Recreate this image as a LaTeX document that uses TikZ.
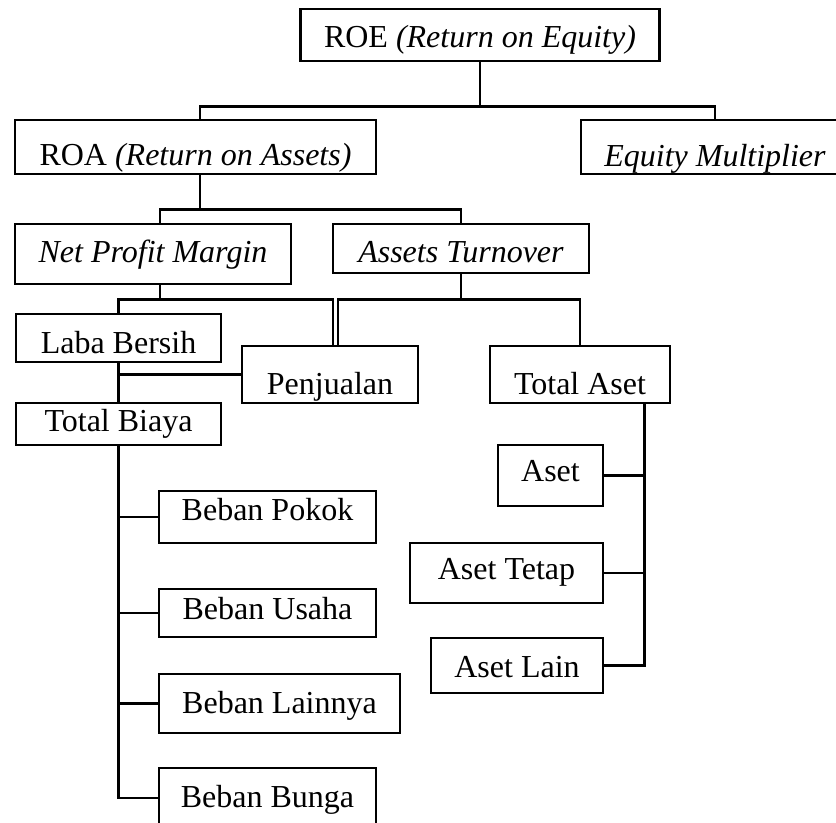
\documentclass[tikz,border=0pt]{standalone}
\usepackage{fontspec}
\setmainfont{Liberation Serif}

\begin{document}
\begin{tikzpicture}[x=0.5pt,y=-0.5pt,line width=1.4pt,main node/.style={rectangle,draw,inner sep=0pt,text depth=0pt,font=\fontsize{16}{19}\selectfont}]
            \useasboundingbox (0,0) rectangle (836,823);
            \clip (0,0) rectangle (836,823);

            \node[main node, minimum width=179.5pt, minimum height=26pt, text height=13pt] (1) at (480,35) {ROE \textit{(Return on Equity)}};
            \node[main node, minimum width=180.5pt, minimum height=27pt, text height=19pt] (2) at (195.5,147) {ROA \textit{(Return on Assets)}};
            \node[main node, minimum width=134pt, minimum height=27pt, text height=20pt] (3) at (715,147) {\textit{Equity Multiplier}};
            \node[main node, minimum width=138pt, minimum height=30pt, text height=9pt] (4) at (153,254) {\textit{Net Profit Margin}};
            \node[main node, minimum width=128pt, minimum height=24.5pt, text height=14.5pt] (5) at (461,248.5) {\textit{Assets Turnover}};
            \node[main node, minimum width=102.5pt, minimum height=24pt, text height=16pt] (6) at (118.5,338) {Laba Bersih};
            \node[main node, minimum width=88pt, minimum height=28.5pt, text height=20.5pt] (7) at (330,374.5) {Penjualan};
            \node[main node, minimum width=90pt, minimum height=28.5pt, text height=20.5pt] (8) at (580,374.5) {Total Aset};
            \node[main node, minimum width=102.5pt, minimum height=21pt, text height=8pt] (9) at (118.5,424) {Total Biaya};
            \node[main node, minimum width=108.5pt, minimum height=26pt, text height=4pt] (10) at (267.5,517) {Beban Pokok};
            \node[main node, minimum width=108.5pt, minimum height=24pt, text height=7pt] (11) at (267.5,613) {Beban Usaha};
            \node[main node, minimum width=120.5pt, minimum height=29.5pt, text height=9.5pt] (12) at (279.5,703.5) {Beban Lainnya};
            \node[main node, minimum width=108.5pt, minimum height=30pt, text height=9pt] (13) at (267.5,798) {Beban Bunga};
            \node[main node, minimum width=52.5pt, minimum height=30.5pt, text height=6.5pt] (14) at (550.5,475.5) {Aset};
            \node[main node, minimum width=96.5pt, minimum height=30pt, text height=7pt] (15) at (506.5,573) {Aset Tetap};
            \node[main node, minimum width=86pt, minimum height=27.5pt, text height=11.5pt] (16) at (517,665.5) {Aset Lain};

            \draw (1.south) -- ++(0,44) coordinate (a) -| ([xshift=2.25pt]2.north) (a) -| (3.north);
            \draw ([xshift=2.25pt]2.south) -- ++(0,34) coordinate (b) -| ([xshift=3.5pt]4.north) (b) -| (5.north);
            \draw ([xshift=3.5pt]4.south) -- ++(0,14) coordinate (c) -| (6.north) (c) -| ([xshift=1.5pt]7.north);
            \draw (5.south) -- ++(0,25) coordinate (d) -| ([xshift=4pt]7.north) (d) -| (8.north);
            \draw (6.south) -- (9.north) (7.west) -| (6.south);
            \draw (9.south) |- (10.west) (9.south) |- (11.west) (9.south) |- (12.west) (9.south) |- (13.west);
            \draw ([xshift=-13.5pt]8.south east) |- (14.east) ([xshift=-13.5pt]8.south east) |- (15.east) ([xshift=-13.5pt]8.south east) |- (16.east);
        \end{tikzpicture}
\end{document}
